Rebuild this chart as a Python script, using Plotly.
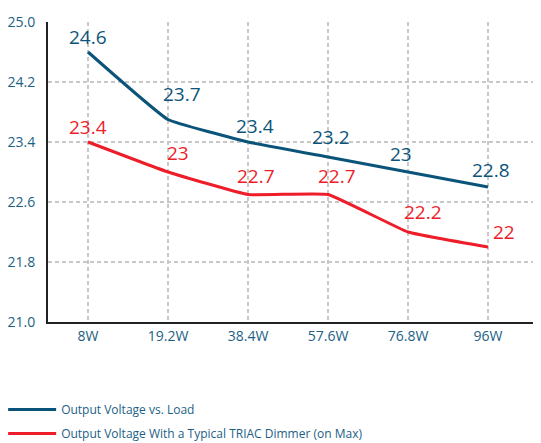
import plotly.graph_objects as go

categories = ["8W", "19.2W", "38.4W", "57.6W", "76.8W", "96W"]
load_voltage = [24.6, 23.7, 23.4, 23.2, 23.0, 22.8]
triac_voltage = [23.4, 23.0, 22.7, 22.7, 22.2, 22.0]
label_load = ["24.6", "23.7", "23.4", "23.2", "23", "22.8"]
label_triac = ["23.4", "23", "22.7", "22.7", "22.2", "22"]
y_ticks = [21.0, 21.8, 22.6, 23.4, 24.2, 25.0]
series_names = ["Output Voltage vs. Load", "Output Voltage With a Typical TRIAC Dimmer (on Max)"]

BLUE = "#0b5479"
RED = "#ee1d2a"
TEXT_BLUE = "#1c5f85"
FONT = "Open Sans"
GRID = "#c8c8c8"

# label offsets (styling)
load_dx = [0, 14, 7, 3, -7, 3]
load_dy = [15, 26, 16, 20, 18, 17]
triac_dx = [0, 10, 8, 9, 15, 16]
triac_dy = [15, 19, 19, 19, 20, 15]

fig = go.Figure()
fig.add_trace(go.Scatter(
    x=list(range(len(categories))), y=load_voltage, mode="lines",
    line=dict(color=BLUE, width=3, shape="spline", smoothing=0.3),
    name=series_names[0], legend="legend",
))
fig.add_trace(go.Scatter(
    x=list(range(len(categories))), y=triac_voltage, mode="lines",
    line=dict(color=RED, width=3, shape="spline", smoothing=0.3),
    name=series_names[1], legend="legend2",
))

anns = []
for i, (v, t) in enumerate(zip(load_voltage, label_load)):
    anns.append(dict(x=i, y=v, text=t, showarrow=False, xshift=load_dx[i], yshift=load_dy[i],
                     yanchor="middle", font=dict(family=FONT, size=19, color=BLUE)))
for i, (v, t) in enumerate(zip(triac_voltage, label_triac)):
    anns.append(dict(x=i, y=v, text=t, showarrow=False, xshift=triac_dx[i], yshift=triac_dy[i],
                     yanchor="middle", font=dict(family=FONT, size=19, color=RED)))

fig.update_layout(
    width=533, height=435,
    margin=dict(l=40, r=0, t=14, b=121, autoexpand=False),
    paper_bgcolor="white", plot_bgcolor="white",
    font=dict(family=FONT, color=TEXT_BLUE),
    annotations=anns,
    showlegend=True,
    legend=dict(x=-0.091, y=-0.243, xanchor="left", yanchor="top",
                font=dict(family=FONT, size=12, color=TEXT_BLUE),
                itemwidth=48, bgcolor="rgba(0,0,0,0)"),
    legend2=dict(x=-0.091, y=-0.323, xanchor="left", yanchor="top",
                 font=dict(family=FONT, size=12, color=TEXT_BLUE),
                 itemwidth=48, bgcolor="rgba(0,0,0,0)"),
    xaxis=dict(
        tickmode="array", tickvals=list(range(len(categories))), ticktext=categories,
        range=[-0.5, 5.6625], showgrid=True, griddash="4px,3px", gridcolor=GRID, gridwidth=1.5,
        showline=True, linecolor="#222222", linewidth=2, zeroline=False, automargin=False,
        ticks="", tickfont=dict(family=FONT, size=14, color=TEXT_BLUE), ticklabelstandoff=0,
    ),
    yaxis=dict(
        tickmode="array", tickvals=y_ticks, ticktext=[f"{v:.1f}" for v in y_ticks],
        range=[21.0, 25.0], showgrid=True, griddash="4px,3px", gridcolor=GRID, gridwidth=1.5,
        showline=True, linecolor="#222222", linewidth=2, zeroline=False, automargin=False,
        ticks="", tickfont=dict(family=FONT, size=14, color=TEXT_BLUE), ticklabelstandoff=8,
    ),
)

fig.write_html("out.html")
